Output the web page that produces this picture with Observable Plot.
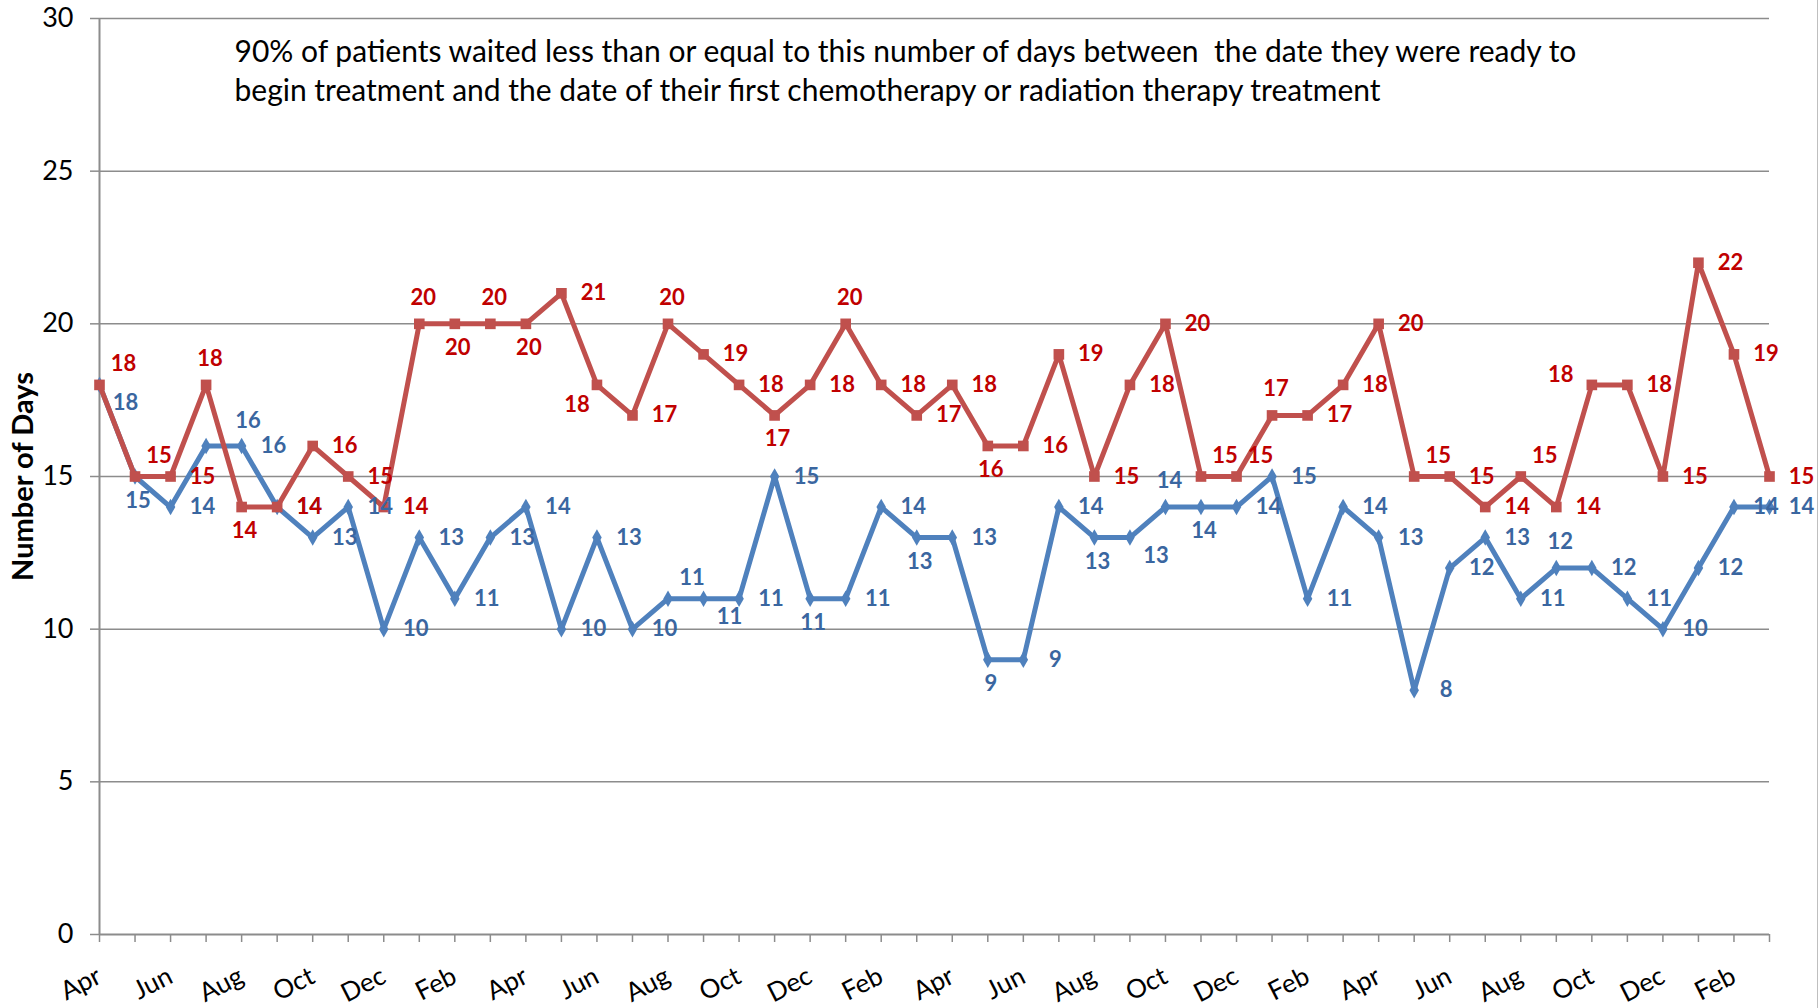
<!DOCTYPE html>
<html>
<head>
<meta charset="utf-8">
<script src="https://cdn.jsdelivr.net/npm/d3@7"></script>
<script src="https://cdn.jsdelivr.net/npm/@observablehq/plot@0.6"></script>
<style>
  html, body { margin: 0; padding: 0; background: #fff; }
  #chart { width: 1818px; height: 1008px; position: relative; box-sizing: border-box; border-right: 1px solid #bfbfbf; }
</style>
</head>
<body>
<div id="chart"></div>
<script>
// ---- data ----
const months = [
  "Apr","May","Jun","Jul","Aug","Sep","Oct","Nov","Dec","Jan","Feb","Mar",
  "Apr","May","Jun","Jul","Aug","Sep","Oct","Nov","Dec","Jan","Feb","Mar",
  "Apr","May","Jun","Jul","Aug","Sep","Oct","Nov","Dec","Jan","Feb","Mar",
  "Apr","May","Jun","Jul","Aug","Sep","Oct","Nov","Dec","Jan","Feb","Mar"
];
const redSeries = [
  18,15,15,18,14,14,16,15,14,20,20,20,
  20,21,18,17,20,19,18,17,18,20,18,17,
  18,16,16,19,15,18,20,15,15,17,17,18,
  20,15,15,14,15,14,18,18,15,22,19,15
];
const blueSeries = [
  18,15,14,16,16,14,13,14,10,13,11,13,
  14,10,13,10,11,11,11,15,11,11,14,13,
  13,9,9,14,13,13,14,14,14,15,11,14,
  13,8,12,13,11,12,12,11,10,12,14,14
];
// data-label placement codes (R = right, T = above, B = below, ...)
const redLabelPos = [
  "TR","TR","R","T","B","R","R","R","R","T","B","T",
  "B","R","BL","R","T","R","R","B","R","T","R","R",
  "R","B","R","R","R","R","R","TR","TR","T","R","R",
  "R","TR","R","R","TR","R","L","R","R","R","R","R"
];
const blueLabelPos = [
  "BR","B","R","TRR","R","R","R","R","R","R","R","R",
  "R","R","R","R","TR","BR","R","R","B","R","R","B",
  "R","B","R","R","B","BR","T","B","R","R","R","R",
  "R","R","R","R","R","T","R","R","R","R","R","R"
];
const yTicks = [0, 5, 10, 15, 20, 25, 30];
const yTitle = "Number of Days";
const noteLines = [
  "90% of patients waited less than or equal to this number of days between  the date they were ready to",
  "begin treatment and the date of their first chemotherapy or radiation therapy treatment"
];

// ---- styles ----
const redLine = "#C0504D", blueLine = "#4F81BD";
const redText = "#C00000", blueText = "#3A66A0";
const gridColor = "#8c8c8c";
const offsets = {R: [32, 0], T: [4, -26], B: [3, 24], TR: [24, -21], TRR: [42, -25], BR: [26, 18], BL: [-20, 20], L: [-31, -10]};

const rows = months.map((m, i) => ({
  i, month: m, red: redSeries[i], blue: blueSeries[i], redPos: redLabelPos[i], bluePos: blueLabelPos[i]
}));

function labelMarks(key, posKey, color) {
  return Object.entries(offsets).map(([code, [dx, dy]]) =>
    Plot.text(rows.filter(d => d[posKey] === code), {
      x: "i", y: key, text: d => String(d[key]), dx, dy,
      fill: color, fontWeight: "bold", fontSize: 22, textAnchor: "middle"
    })
  );
}

const chart = Plot.plot({
  width: 1817,
  height: 1008,
  marginLeft: 99,
  marginRight: 48,
  marginTop: 18,
  marginBottom: 74,
  style: {fontFamily: "Lato, 'Open Sans', sans-serif", fontSize: "26px", background: "white", overflow: "visible"},
  x: {type: "linear", domain: [0, months.length - 1]},
  y: {domain: [0, 30]},
  marks: [
    Plot.ruleY(yTicks.filter(v => v > 0), {stroke: gridColor, strokeWidth: 1.5}),
    Plot.axisY({ticks: yTicks, tickSize: 9, tickPadding: 17, stroke: gridColor, strokeWidth: 1.5, fill: "black", fontSize: 27, label: null}),
    Plot.axisX({
      ticks: d3.range(months.length),
      tickFormat: i => (i % 2 === 0 ? months[i] : ""),
      tickRotate: -27, tickSize: 8, tickPadding: 32,
      stroke: gridColor, strokeWidth: 1.5, fill: "black", fontSize: 26, label: null
    }),
    Plot.ruleY([0], {stroke: gridColor, strokeWidth: 2}),
    Plot.ruleX([0], {stroke: gridColor, strokeWidth: 2}),
    Plot.text([yTitle], {frameAnchor: "left", dx: -76, rotate: -90, textAnchor: "middle", fontWeight: "bold", fontSize: 29, fill: "black"}),
    Plot.text([noteLines.join("\n")], {frameAnchor: "top-left", dx: 135, dy: 16, textAnchor: "start", lineAnchor: "top", fontSize: 30, lineHeight: 1.3, fill: "black"}),
    Plot.line(rows, {x: "i", y: "blue", stroke: blueLine, strokeWidth: 5}),
    Plot.dot(rows, {x: "i", y: "blue", symbol: "diamond", r: 5, fill: blueLine, stroke: null}),
    Plot.line(rows, {x: "i", y: "red", stroke: redLine, strokeWidth: 5}),
    Plot.dot(rows, {x: "i", y: "red", symbol: "square", r: 6, fill: redLine, stroke: null}),
    ...labelMarks("blue", "bluePos", blueText),
    ...labelMarks("red", "redPos", redText)
  ]
});
document.getElementById("chart").appendChild(chart);
</script>
</body>
</html>
